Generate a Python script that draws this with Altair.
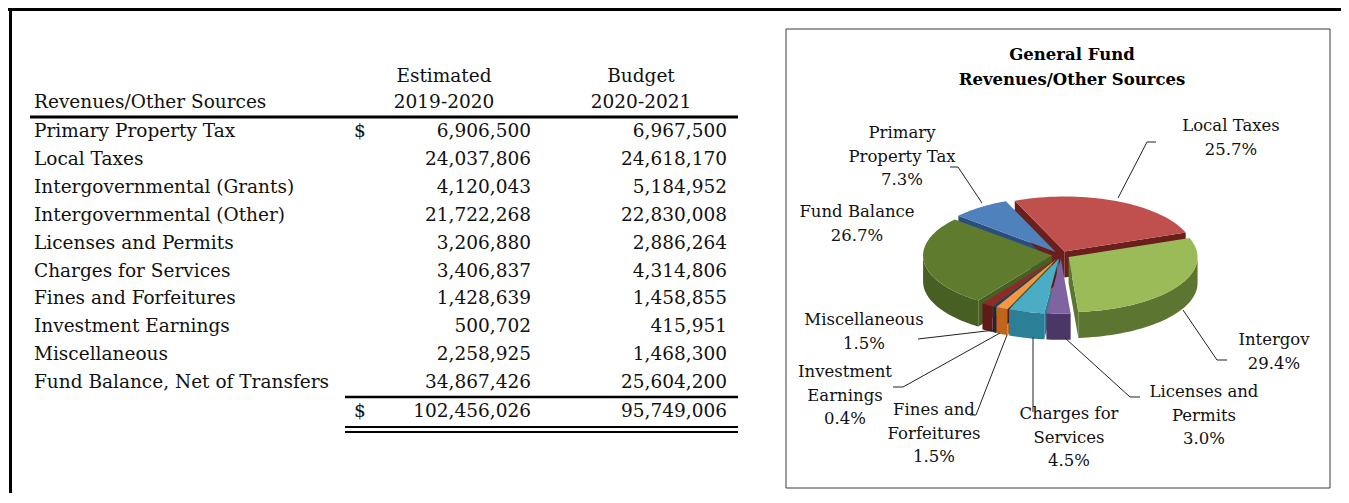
import altair as alt
import pandas as pd

# ---------------- data ----------------
row_labels = ["Primary Property Tax", "Local Taxes", "Intergovernmental (Grants)",
              "Intergovernmental (Other)", "Licenses and Permits", "Charges for Services",
              "Fines and Forfeitures", "Investment Earnings", "Miscellaneous",
              "Fund Balance, Net of Transfers"]
est_2019_2020 = [6906500, 24037806, 4120043, 21722268, 3206880, 3406837, 1428639, 500702, 2258925, 34867426]
bud_2020_2021 = [6967500, 24618170, 5184952, 22830008, 2886264, 4314806, 1458855, 415951, 1468300, 25604200]
total_est = [102456026]
total_bud = [95749006]
header_cols = ["Estimated", "2019-2020", "Budget", "2020-2021"]
header_rows = "Revenues/Other Sources"
chart_title = "General Fund\nRevenues/Other Sources"

pie_names = ["Primary\nProperty Tax", "Local Taxes", "Intergov", "Licenses and\nPermits",
             "Charges for\nServices", "Fines and\nForfeitures", "Investment\nEarnings",
             "Miscellaneous", "Fund Balance"]
pie_pct = [7.3, 25.7, 29.4, 3.0, 4.5, 1.5, 0.4, 1.5, 26.7]

# ---------------- style / layout ----------------
top_colors = ["#4f81bd", "#c0504d", "#9bbb59", "#8064a2", "#4bacc6", "#f79646", "#1f3d66", "#8c2b28", "#5e7b2e"]
side_colors = ["#2a4f7e", "#6a1f1d", "#5c7530", "#4a3766", "#2b7f97", "#c0651c", "#16294a", "#601b19", "#475f22"]
lab_x = [902, 1231, 1274, 1204, 1069, 934, 845, 864, 857]
lab_y = [133, 126, 340, 392, 414, 410, 372, 320, 212]
leaders = [
    [(950, 167), (958, 167), (982, 203)],
    [(1118, 198), (1147, 142), (1156, 142)],
    [(1183, 310), (1217, 360), (1227, 360)],
    [(1065, 338), (1130, 397), (1140, 397)],
    [(1033, 337), (1033, 412)],
    [(1007, 335), (976, 415), (970, 415)],
    [(1000, 333), (903, 387), (893, 387)],
    [(995, 330), (918, 339)],
]

FONT = "DejaVu Serif"
FS_T = 18.5
FS_P = 16.5
W, H = 1333, 485
OX, OY = 8, 8
CX, CY, RX, RY, D, E, PHI, N = 1061, 255, 129, 55, 26, 9, -49, 40

xs = alt.Scale(domain=[OX, OX + W], nice=False, zero=False)
ys = alt.Scale(domain=[OY, OY + H], nice=False, zero=False, reverse=True)


def XY(xf="px", yf="py"):
    return dict(x=alt.X(f"{xf}:Q", scale=xs, axis=None),
                y=alt.Y(f"{yf}:Q", scale=ys, axis=None))


# ---------------- table ----------------
tbl = pd.DataFrame({"i": list(range(len(row_labels))), "label": row_labels,
                    "est": est_2019_2020, "bud": bud_2020_2021})
ROW0, STEP = 131, 27.9
tb = alt.Chart(tbl).transform_calculate(py=f"{ROW0} + datum.i * {STEP}")
txt = dict(font=FONT, fontSize=FS_T, color="#111", baseline="middle")

t_lab = tb.transform_calculate(px="34").mark_text(align="left", **txt).encode(**XY(), text="label:N")
t_est = tb.transform_calculate(px="531").mark_text(align="right", **txt).encode(
    **XY(), text=alt.Text("est:Q", format=","))
t_bud = tb.transform_calculate(px="727").mark_text(align="right", **txt).encode(
    **XY(), text=alt.Text("bud:Q", format=","))
t_dol = tb.transform_filter("datum.i == 0").transform_calculate(px="360").mark_text(
    align="center", text="$", **txt).encode(**XY())

tot = pd.DataFrame({"est": total_est, "bud": total_bud})
tt = alt.Chart(tot).transform_calculate(py="411")
t_tot_e = tt.transform_calculate(px="531").mark_text(align="right", **txt).encode(
    **XY(), text=alt.Text("est:Q", format=","))
t_tot_b = tt.transform_calculate(px="727").mark_text(align="right", **txt).encode(
    **XY(), text=alt.Text("bud:Q", format=","))
t_tot_d = tt.transform_calculate(px="360").mark_text(align="center", text="$", **txt).encode(**XY())

hdr = pd.DataFrame({"txt": header_cols, "px": [444, 444, 641, 641], "py": [76, 102, 76, 102]})
t_hdr = alt.Chart(hdr).mark_text(align="center", **txt).encode(**XY(), text="txt:N")
t_hdr2 = alt.Chart(pd.DataFrame({"txt": [header_rows], "px": [34], "py": [102]})).mark_text(
    align="left", **txt).encode(**XY(), text="txt:N")

rules_h = pd.DataFrame({"x1": [30, 345, 345, 345, 8], "x2": [738, 738, 738, 738, 1341],
                        "py": [117, 397, 427, 432, 9.5], "w": [3, 2.5, 2, 2, 3]})
r_h = alt.Chart(rules_h).mark_rule(color="black").encode(
    x=alt.X("x1:Q", scale=xs, axis=None), x2="x2:Q",
    y=alt.Y("py:Q", scale=ys, axis=None), strokeWidth=alt.StrokeWidth("w:Q", scale=None))
r_v = alt.Chart(pd.DataFrame({"px": [10.5], "y1": [8], "y2": [493]})).mark_rule(
    color="black", strokeWidth=3).encode(
    x=alt.X("px:Q", scale=xs, axis=None), y=alt.Y("y1:Q", scale=ys, axis=None), y2="y2:Q")

box = alt.Chart(pd.DataFrame({"x1": [786], "x2": [1330], "y1": [29], "y2": [488]})).mark_rect(
    fillOpacity=0, stroke="#3a3a3a", strokeWidth=1).encode(
    x=alt.X("x1:Q", scale=xs, axis=None), x2="x2:Q",
    y=alt.Y("y1:Q", scale=ys, axis=None), y2="y2:Q")

title = alt.Chart(pd.DataFrame({"txt": [chart_title], "px": [1072], "py": [55]})).mark_text(
    align="center", baseline="middle", font=FONT, fontSize=16.5, fontWeight="bold",
    lineBreak="\n", lineHeight=25, color="black").encode(**XY(), text="txt:N")

# ---------------- pie ----------------
pie = pd.DataFrame({"k": list(range(len(pie_names))), "name": pie_names, "pct": pie_pct,
                    "topc": top_colors, "sidec": side_colors, "lx": lab_x, "ly": lab_y})

pbase = alt.Chart(pie).transform_joinaggregate(total="sum(pct)").transform_window(
    cum="sum(pct)", sort=[alt.SortField("k")], frame=[None, 0]
).transform_calculate(
    a0=f"360*(datum.cum - datum.pct)/datum.total + ({PHI})"
).transform_calculate(
    a1=f"360*datum.cum/datum.total + ({PHI})"
).transform_calculate(
    m="(datum.a0 + datum.a1)/2"
).transform_calculate(
    ex=f"{E}*sin(datum.m*PI/180)"
).transform_calculate(
    ey=f"-{E}*{RY / RX}*cos(datum.m*PI/180)"
)

poly = dict(filled=True, interpolate="linear-closed", strokeWidth=0)

faces = pbase.transform_calculate(part="['s','e']").transform_flatten(["part"]).transform_calculate(
    A="datum.part == 's' ? datum.a0 : datum.a1"
).transform_calculate(
    nrm="datum.part == 's' ? datum.a0 - 90 : datum.a1 + 90"
).transform_filter("cos(datum.nrm*PI/180) < 0").transform_calculate(
    t="sequence(0, 4)").transform_flatten(["t"]).transform_calculate(
    r="(datum.t == 1 || datum.t == 2) ? 1 : 0"
).transform_calculate(
    z=f"datum.t >= 2 ? {D} : 0"
).transform_calculate(
    px=f"{CX} + datum.ex + datum.r*{RX}*sin(datum.A*PI/180)"
).transform_calculate(
    py=f"{CY} + datum.ey - datum.r*{RY}*cos(datum.A*PI/180) + datum.z"
).mark_line(**poly).encode(**XY(), order="t:Q", detail=["name:N", "part:N"],
                           color=alt.Color("sidec:N", scale=None))

walls = pbase.transform_calculate(w0="max(datum.a0, 90)").transform_calculate(
    w1="min(datum.a1, 270)").transform_filter("datum.w1 > datum.w0").transform_calculate(
    t=f"sequence(0, {2 * N + 2})").transform_flatten(["t"]).transform_calculate(
    th=f"(datum.t <= {N} ? datum.w0 + (datum.w1 - datum.w0)*datum.t/{N} : "
       f"datum.w1 - (datum.w1 - datum.w0)*(datum.t - {N} - 1)/{N})*PI/180"
).transform_calculate(
    z=f"datum.t <= {N} ? 0 : {D}"
).transform_calculate(
    px=f"{CX} + datum.ex + {RX}*sin(datum.th)"
).transform_calculate(
    py=f"{CY} + datum.ey - {RY}*cos(datum.th) + datum.z"
).mark_line(**poly).encode(**XY(), order="t:Q", detail="name:N",
                           color=alt.Color("sidec:N", scale=None))

tops = pbase.transform_calculate(t=f"sequence(-1, {N + 1})").transform_flatten(["t"]).transform_calculate(
    th=f"(datum.a0 + (datum.a1 - datum.a0)*datum.t/{N})*PI/180"
).transform_calculate(
    px=f"{CX} + datum.ex + (datum.t < 0 ? 0 : {RX}*sin(datum.th))"
).transform_calculate(
    py=f"{CY} + datum.ey - (datum.t < 0 ? 0 : {RY}*cos(datum.th))"
).mark_line(**poly).encode(**XY(), order="t:Q", detail="name:N",
                           color=alt.Color("topc:N", scale=None))

lead_rows = []
for s, pts in enumerate(leaders):
    for j, (a, b) in enumerate(pts):
        lead_rows.append({"seg": s, "j": j, "px": a, "py": b})
lead = alt.Chart(pd.DataFrame(lead_rows)).mark_line(color="#222", strokeWidth=1).encode(
    **XY(), order="j:Q", detail="seg:N")

plabels = alt.Chart(pie).transform_calculate(
    txt="datum.name + '\\n' + format(datum.pct, '.1f') + '%'"
).mark_text(align="center", baseline="middle", font=FONT, fontSize=FS_P, lineBreak="\n",
            lineHeight=23.5, color="#111").encode(**XY("lx", "ly"), text="txt:N")

chart = alt.layer(
    r_v, r_h, t_hdr, t_hdr2, t_lab, t_est, t_bud, t_dol, t_tot_e, t_tot_b, t_tot_d,
    box, title, faces, walls, tops, lead, plabels
).properties(
    width=W, height=H, padding=0, autosize=alt.AutoSizeParams(type="none"), background="white"
).configure_view(stroke=None)

chart.save("out.html", embed_options={"renderer": "svg", "actions": False})
